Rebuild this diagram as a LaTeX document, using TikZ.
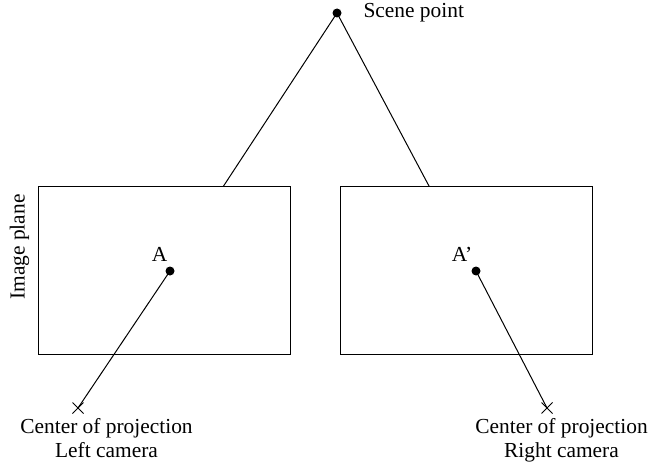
\documentclass[tikz,border=0pt]{standalone}
\usepackage{fontspec}
\setmainfont{Liberation Serif}
\usetikzlibrary{calc}
\usetikzlibrary{shapes.misc}
\usetikzlibrary{positioning}

\tikzset{
  dot/.style={circle, fill, inner sep=0pt, minimum size=4.5pt},
  cam/.style={cross out, draw, inner sep=0pt, minimum size=5pt},
  plane/.style={draw},
  txt/.style={inner sep=0pt},
}

\begin{document}
\begin{tikzpicture}[x=0.5pt, y=-0.5pt, line width=0.5pt, font=\fontsize{10.7}{12}\selectfont]
    \useasboundingbox (0,0) rectangle (652,465);
    \node[dot] (scene) at (337,13) {};
    \node[txt, right=10.5pt of scene] (scenelbl) {Scene point};
    \node[cam] (lcam) at (78,408) {};
    \node[cam] (rcam) at (547,408) {};
    \coordinate (ltop) at ($(scene.center)!0.4392!(lcam.center)$);
    \coordinate (rtop) at ($(scene.center)!0.4392!(rcam.center)$);
    \draw (scene.center) -- (ltop);
    \draw (scene.center) -- (rtop);
    \draw[plane] (38,186.5) rectangle (290,354.5);
    \draw[plane] (340,186.5) rectangle (592,354.5);
    \node[dot] (a) at (170,271) {};
    \node[dot] (ap) at (476,271) {};
    \draw (a.center) -- (lcam.center);
    \draw (ap.center) -- (rcam.center);
    \node[txt] (albl) at (159.5,254.5) {A};
    \node[txt] (aplbl) at (462,254.5) {A'};
    \node[txt, rotate=90] (planelbl) at (19.5,247) {Image plane};
    \node[txt, anchor=north, align=center] (llbl) at (106.5,418) {Center of projection\\Left camera};
    \node[txt, anchor=north, align=center] (rlbl) at (561.5,418) {Center of projection\\Right camera};
\end{tikzpicture}
\end{document}
